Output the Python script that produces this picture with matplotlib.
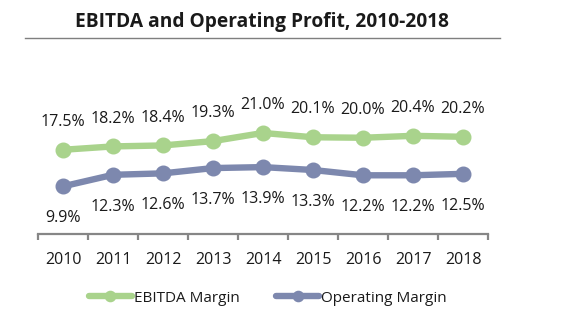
import matplotlib.pyplot as plt
import numpy as np

plt.rcParams['font.family'] = ['Open Sans', 'DejaVu Sans']

years = ['2010', '2011', '2012', '2013', '2014', '2015', '2016', '2017', '2018']
ebitda_margin = [17.5, 18.2, 18.4, 19.3, 21.0, 20.1, 20.0, 20.4, 20.2]
operating_margin = [9.9, 12.3, 12.6, 13.7, 13.9, 13.3, 12.2, 12.2, 12.5]

green = '#a9d38c'
slate = '#7d88ae'
text_col = '#1a1a1a'

fig = plt.figure(figsize=(5.8, 3.32), dpi=100)
ax = fig.add_axes([38 / 580, 98 / 332, 450 / 580, 154 / 332])

x = np.arange(len(years))
ax.plot(x, ebitda_margin, color=green, lw=4.6, marker='o', ms=10.5,
        solid_capstyle='round', label='EBITDA Margin')
ax.plot(x, operating_margin, color=slate, lw=4.6, marker='o', ms=10.5,
        solid_capstyle='round', label='Operating Margin')

# value labels: EBITDA above, operating below
for i in x:
    ax.annotate(f'{ebitda_margin[i]:.1f}%', (i, ebitda_margin[i]),
                xytext=(0, 20), textcoords='offset points',
                ha='center', va='center', fontsize=11.5, color=text_col)
    ax.annotate(f'{operating_margin[i]:.1f}%', (i, operating_margin[i]),
                xytext=(0, -23), textcoords='offset points',
                ha='center', va='center', fontsize=11.5, color=text_col)

ax.set_xlim(-0.5, len(years) - 0.5)
ax.set_ylim(0, 32)
for s in ['top', 'left', 'right']:
    ax.spines[s].set_visible(False)
ax.spines['bottom'].set_color('#868686')
ax.spines['bottom'].set_linewidth(1.6)
ax.set_yticks([])
ax.set_xticks(x)
ax.set_xticklabels(years, fontsize=11.5, color=text_col)
ax.tick_params(axis='x', which='major', length=0, pad=13)
ax.set_xticks(np.arange(-0.5, len(years)), minor=True)
ax.tick_params(axis='x', which='minor', length=4, width=1.6, color='#868686',
               direction='out')

fig.text(262 / 580, 1 - 22 / 332, 'EBITDA and Operating Profit, 2010-2018',
         ha='center', va='center', fontsize=13.8, fontweight='bold',
         color=text_col)
fig.add_artist(plt.Line2D([25 / 580, 500 / 580], [1 - 38 / 332, 1 - 38 / 332],
                          color='#7f7f7f', lw=1))

handles, labels = ax.get_legend_handles_labels()
leg = fig.legend(handles, labels, loc='center', bbox_to_anchor=(268 / 580, 34 / 332),
                 ncol=2, frameon=False, fontsize=11, handlelength=2.8,
                 handletextpad=0.15, columnspacing=2.4, markerscale=0.7)
for t in leg.get_texts():
    t.set_color(text_col)

fig.savefig('out.png', dpi=100)
